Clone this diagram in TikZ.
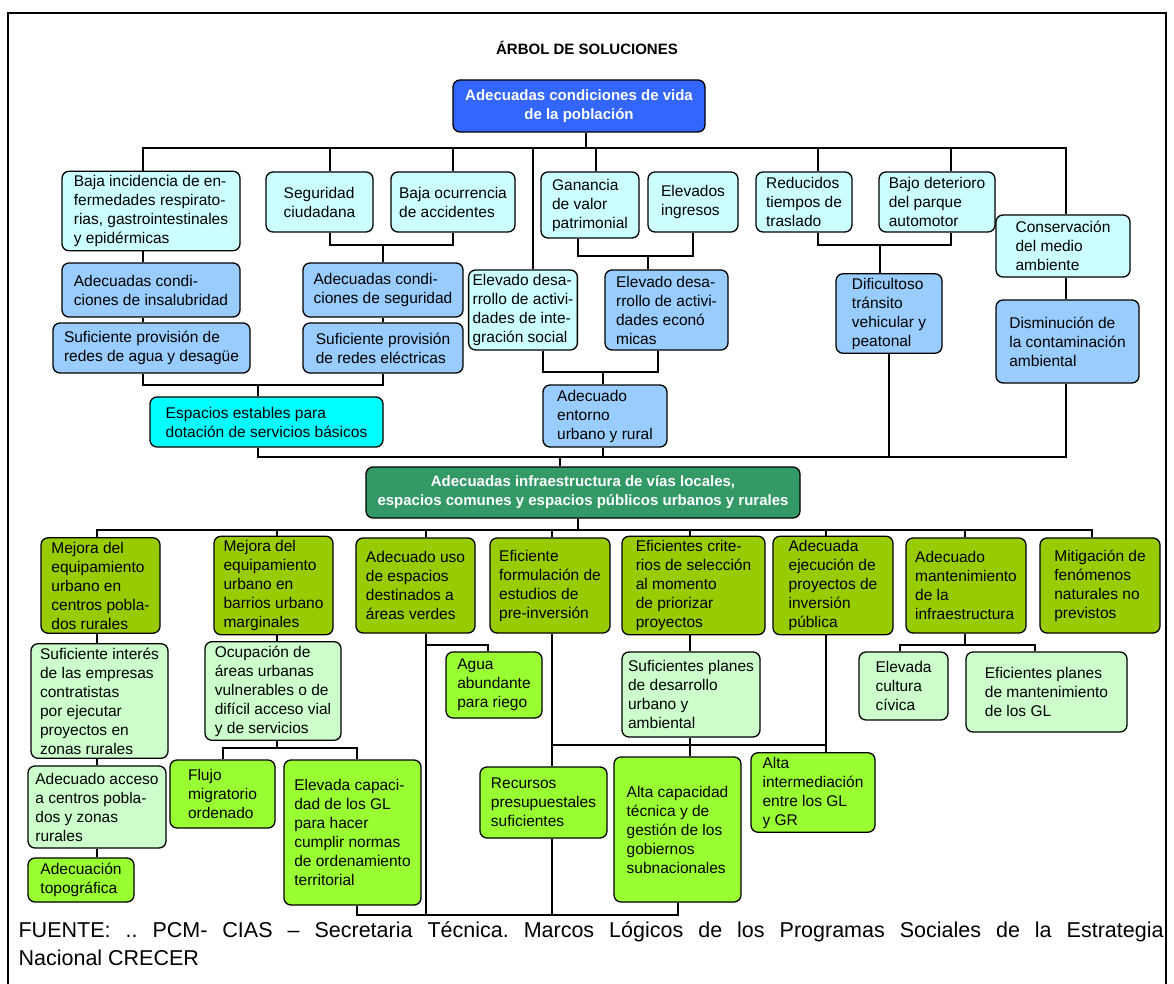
\documentclass[tikz,border=0pt]{standalone}
\usepackage{fontspec}
\setmainfont{Liberation Sans}
\usepackage{tikz}
\definecolor{azul}{HTML}{3366FF}
\definecolor{celeste}{HTML}{CCFFFF}
\definecolor{celesteosc}{HTML}{99CCFF}
\definecolor{cian}{HTML}{00FFFF}
\definecolor{verdeinfra}{HTML}{339966}
\definecolor{verdeoliva}{HTML}{99CC00}
\definecolor{verdeclaro}{HTML}{CCFFCC}
\definecolor{verdelima}{HTML}{99FF33}
\frenchspacing

\begin{document}
\begin{tikzpicture}[x=1pt,y=-1pt,line width=1.2pt]
  \tikzstyle{caja}=[draw=black,line width=1.3pt,rounded corners=7pt,align=left,
                    inner sep=4pt,font=\fontsize{15.5}{19}\selectfont]
  \tikzstyle{raiz}=[caja,align=center,text=white,font=\bfseries\fontsize{15}{19}\selectfont]
  \tikzstyle{celeste}=[caja,fill=celeste]
  \tikzstyle{medio}=[caja,fill=celesteosc]
  \tikzstyle{cian}=[caja,fill=cian]
  \tikzstyle{oliva}=[caja,fill=verdeoliva]
  \tikzstyle{claro}=[caja,fill=verdeclaro]
  \tikzstyle{lima}=[caja,fill=verdelima]

  \useasboundingbox (0,0) rectangle (1174,984);
  \draw[line width=2.2pt] (8,990) -- (8,13) -- (1166,13) -- (1166,990);

  \node[font=\bfseries\fontsize{15}{18}\selectfont] (titulo) at (587,48) {ÁRBOL DE SOLUCIONES};

  % fines
  \node[raiz,fill=azul,minimum width=252pt,minimum height=52pt] (vida) at (579,106)
       {Adecuadas condiciones de vida\\de la población};
  \node[celeste,minimum width=178pt,minimum height=78pt] (bajainc) at (151,211)
       {Baja incidencia de en-\\fermedades respirato-\\rias, gastrointestinales\\y epidérmicas};
  \node[celeste,minimum width=107pt,minimum height=60pt] (segur) at (319.5,202)
       {Seguridad\\ciudadana};
  \node[celeste,minimum width=124pt,minimum height=60pt] (bajaocu) at (453,202)
       {Baja ocurrencia\\de accidentes};
  \node[celeste,minimum width=98pt,minimum height=66pt] (ganan) at (590,205)
       {Ganancia\\de valor\\patrimonial};
  \node[celeste,minimum width=90pt,minimum height=60pt] (ingresos) at (693,202)
       {Elevados\\ingresos};
  \node[celeste,minimum width=96pt,minimum height=60pt] (reduc) at (804,202)
       {Reducidos\\tiempos de\\traslado};
  \node[celeste,minimum width=116pt,minimum height=60pt] (bajodet) at (937,202)
       {Bajo deterioro\\del parque\\automotor};
  \node[celeste,minimum width=134pt,minimum height=62pt] (conserv) at (1063,246)
       {Conservación\\del medio\\ambiente};

  \node[medio,minimum width=178pt,minimum height=54pt] (condins) at (151,290)
       {Adecuadas condi-\\ciones de insalubridad};
  \node[medio,minimum width=197pt,minimum height=50pt] (aguades) at (151.5,348)
       {Suficiente provisión de\\redes de agua y desagüe};
  \node[medio,minimum width=160pt,minimum height=54pt] (condseg) at (383,290)
       {Adecuadas condi-\\ciones de seguridad};
  \node[medio,minimum width=160pt,minimum height=50pt] (electr) at (383,348)
       {Suficiente provisión\\de redes eléctricas};
  \node[celeste,minimum width=100pt,minimum height=80pt] (integ) at (523,310)
       {Elevado desa-\\rrollo de activi-\\dades de inte-\\gración social};
  \node[medio,minimum width=123pt,minimum height=80pt] (econ) at (666.5,310)
       {Elevado desa-\\rrollo de activi-\\dades econó\\micas};
  \node[medio,minimum width=106pt,minimum height=73pt] (dific) at (889,313.5)
       {Dificultoso\\tránsito\\vehicular y\\peatonal};
  \node[medio,minimum width=143pt,minimum height=83pt] (dismin) at (1067.5,341.5)
       {Disminución de\\la contaminación\\ambiental};
  \node[cian,minimum width=233pt,minimum height=50pt] (espacios) at (266.5,422)
       {Espacios estables para\\dotación de servicios básicos};
  \node[medio,minimum width=124pt,minimum height=62pt] (entorno) at (605,416)
       {Adecuado\\entorno\\urbano y rural};

  % objetivo central
  \node[raiz,fill=verdeinfra,minimum width=434pt,minimum height=51pt] (infra) at (583,492.5)
       {Adecuadas infraestructura de vías locales,\\espacios comunes y espacios públicos urbanos y rurales};

  % medios
  \node[oliva,minimum width=119pt,minimum height=95pt] (mejora1) at (100.5,585.5)
       {Mejora del\\equipamiento\\urbano en\\centros pobla-\\dos rurales};
  \node[oliva,minimum width=119pt,minimum height=95pt] (mejora2) at (273.5,585.5)
       {Mejora del\\equipamiento\\urbano en\\barrios urbano\\marginales};
  \node[oliva,minimum width=119pt,minimum height=95pt] (adecuso) at (415.5,585.5)
       {Adecuado uso\\de espacios\\destinados a\\áreas verdes};
  \node[oliva,minimum width=120pt,minimum height=95pt] (eficiente) at (550,585.5)
       {Eficiente\\formulación de\\estudios de\\pre-inversión};
  \node[oliva,minimum width=143pt,minimum height=95pt] (criterios) at (693.5,585.5)
       {Eficientes crite-\\rios de selección\\al momento\\de priorizar\\proyectos};
  \node[oliva,minimum width=120pt,minimum height=95pt] (ejecucion) at (833,585.5)
       {Adecuada\\ejecución de\\proyectos de\\inversión\\pública};
  \node[oliva,minimum width=120pt,minimum height=95pt] (mantenim) at (966,585.5)
       {Adecuado\\mantenimiento\\de la\\infraestructura};
  \node[oliva,minimum width=120pt,minimum height=95pt] (mitig) at (1100,585.5)
       {Mitigación de\\fenómenos\\naturales no\\previstos};

  \node[claro,minimum width=137pt,minimum height=112pt] (interes) at (99.5,701)
       {Suficiente interés\\de las empresas\\contratistas\\por ejecutar\\proyectos en\\zonas rurales};
  \node[claro,minimum width=138pt,minimum height=82pt] (acceso) at (97,807)
       {Adecuado acceso\\a centros pobla-\\dos y zonas\\rurales};
  \node[lima,minimum width=106pt,minimum height=44pt] (topogr) at (81,880)
       {Adecuación\\topográfica};
  \node[claro,minimum width=136pt,minimum height=92pt] (ocupa) at (273,691)
       {Ocupación de\\áreas urbanas\\vulnerables o de\\difícil acceso vial\\y de servicios};
  \node[lima,minimum width=105pt,minimum height=68pt] (flujo) at (222.5,794)
       {Flujo\\migratorio\\ordenado};
  \node[lima,minimum width=137pt,minimum height=145pt] (elevcap) at (352.5,832.5)
       {Elevada capaci-\\dad de los GL\\para hacer\\cumplir normas\\de ordenamiento\\territorial};
  \node[lima,minimum width=96pt,minimum height=66pt] (riego) at (494,685)
       {Agua\\abundante\\para riego};
  \node[claro,minimum width=138pt,minimum height=85pt] (planes) at (691,694.5)
       {Suficientes planes\\de desarrollo\\urbano y\\ambiental};
  \node[lima,minimum width=127pt,minimum height=71pt] (recursos) at (543.5,802.5)
       {Recursos\\presupuestales\\suficientes};
  \node[lima,minimum width=127pt,minimum height=145pt] (altacap) at (677.5,829.5)
       {Alta capacidad\\técnica y de\\gestión de los\\gobiernos\\subnacionales};
  \node[lima,minimum width=124pt,minimum height=71pt] (altaint) at (813,792.5)
       {Alta\\intermediación\\entre los GL\\y GR};
  \node[claro,minimum width=89pt,minimum height=68pt] (cultura) at (903.5,686)
       {Elevada\\cultura\\cívica};
  \node[claro,minimum width=161pt,minimum height=80pt] (planesm) at (1046.5,692)
       {Eficientes planes\\de mantenimiento\\de los GL};

  % lineas de la parte superior
  \coordinate (bus1) at (586,148);
  \draw (vida.south -| bus1) -- (bus1);
  \draw (bajainc.north -| 143,0) |- (bus1) -| (conserv.north -| 1066,0);
  \draw (segur.north -| 330,0) |- (bus1);
  \draw (bajaocu.north -| 453,0) |- (bus1);
  \draw (integ.north -| 533,0) |- (bus1);
  \draw (ganan.north -| 596,0) |- (bus1);
  \draw (reduc.north -| 818,0) |- (bus1);
  \draw (bajodet.north -| 951,0) |- (bus1);

  \draw (bajainc.south -| 143,0) -- (condins.north -| 143,0);
  \draw (condins.south -| 143,0) -- (aguades.north -| 143,0);
  \coordinate (jseg) at (383,245);
  \draw (segur.south -| 330,0) |- (jseg) -| (bajaocu.south -| 453,0);
  \draw (jseg) -- (condseg.north -| jseg);
  \draw (condseg) -- (electr);
  \coordinate (jesp) at (258,385);
  \draw (aguades.south -| 143,0) |- (jesp) -| (electr.south -| 383,0);
  \draw (jesp) -- (espacios.north -| jesp);
  \coordinate (jpat) at (648,256);
  \draw (ganan.south -| 578,0) |- (jpat) -| (ingresos.south -| 693,0);
  \draw (jpat) -- (econ.north -| jpat);
  \coordinate (jent) at (603,372);
  \draw (integ.south -| 543,0) |- (jent) -| (econ.south -| 658,0);
  \draw (jent) -- (entorno.north -| jent);
  \coordinate (jtra) at (880,245);
  \draw (reduc.south -| 818,0) |- (jtra) -| (bajodet.south -| 951,0);
  \draw (jtra) -- (dific.north -| jtra);
  \draw (conserv.south -| 1066,0) -- (dismin.north -| 1066,0);

  \coordinate (bus2) at (560,457);
  \draw (espacios.south -| 258,0) |- (bus2) -| (dismin.south -| 1066,0);
  \draw (entorno.south -| 603,0) |- (bus2);
  \draw (dific.south -| 889,0) |- (bus2);
  \draw (bus2) -- (infra.north -| bus2);

  % lineas de la parte inferior
  \coordinate (bus3) at (578,530);
  \draw (infra.south -| bus3) -- (bus3);
  \draw (mejora1.north -| 97,0) |- (bus3) -| (mitig.north -| 1092,0);
  \draw (mejora2.north -| 277,0) |- (bus3);
  \draw (adecuso.north -| 426,0) |- (bus3);
  \draw (eficiente.north -| 552,0) |- (bus3);
  \draw (criterios.north -| 690,0) |- (bus3);
  \draw (ejecucion.north -| 826,0) |- (bus3);
  \draw (mantenim.north -| 965,0) |- (bus3);

  \draw (mejora1.south -| 97,0) -- (interes.north -| 97,0);
  \draw (interes.south -| 97,0) -- (acceso.north -| 97,0);
  \draw (acceso.south -| 97,0) -- (topogr.north -| 97,0);
  \draw (mejora2.south -| 277,0) -- (ocupa.north -| 277,0);
  \coordinate (jocu) at (277,748);
  \draw (ocupa.south -| jocu) -- (jocu);
  \draw (flujo.north -| 223,0) |- (jocu) -| (elevcap.north -| 357,0);
  \coordinate (jagua) at (426,645);
  \draw (adecuso.south -| jagua) -- (jagua) -| (riego.north -| 488,0);
  \coordinate (jbase) at (426,915);
  \draw (jagua) -- (jbase);
  \draw (elevcap.south -| 357,0) |- (jbase) -| (altacap.south -| 678,0);
  \draw (eficiente.south -| 552,0) -- (recursos.north -| 552,0);
  \draw (recursos.south -| 552,0) -- (jbase -| recursos.south -| 552,0);
  \coordinate (jalta) at (552,745);
  \draw (jalta) -| (altaint.north -| 826,0);
  \draw (ejecucion.south -| 826,0) -- (altaint.north -| 826,0);
  \draw (criterios.south -| 690,0) -- (planes.north -| 690,0);
  \draw (planes.south -| 690,0) -- (altacap.north -| 690,0);
  \coordinate (jmant) at (965,645);
  \draw (mantenim.south -| jmant) -- (jmant);
  \draw (cultura.north -| 900,0) |- (jmant) -| (planesm.north -| 1035,0);

  \node[anchor=west,align=left,inner sep=0pt,font=\fontsize{21.5}{28}\selectfont] (fuente) at (18,944)
       {\makebox[1145pt][s]{FUENTE: .. PCM- CIAS – Secretaria Técnica. Marcos Lógicos de los Programas Sociales de la Estrategia}\\Nacional CRECER};
\end{tikzpicture}
\end{document}
